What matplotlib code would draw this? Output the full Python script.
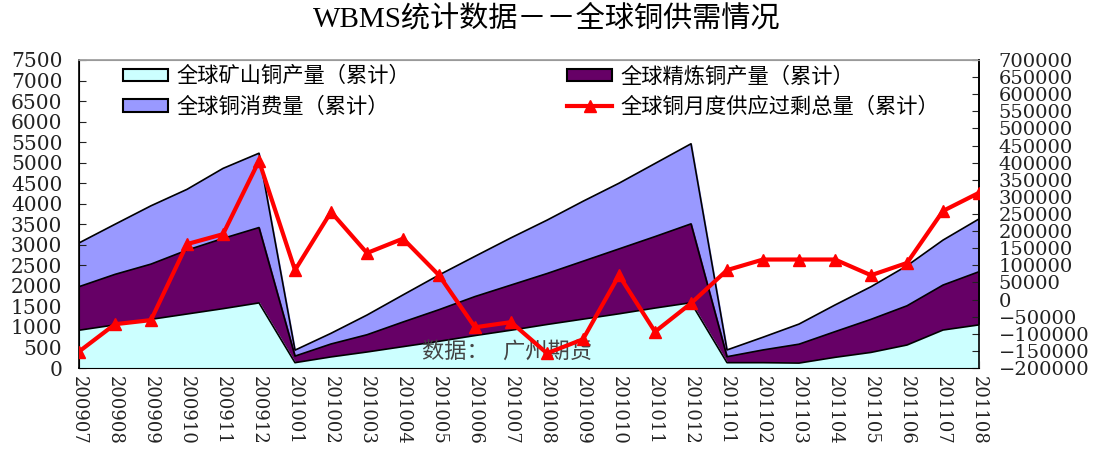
import matplotlib.pyplot as plt
from matplotlib.patches import Patch
from matplotlib.lines import Line2D

plt.rcParams['font.family'] = ['DejaVu Serif', 'Noto Sans CJK SC']

months = ["200907", "200908", "200909", "200910", "200911", "200912",
          "201001", "201002", "201003", "201004", "201005", "201006",
          "201007", "201008", "201009", "201010", "201011", "201012",
          "201101", "201102", "201103", "201104", "201105", "201106",
          "201107", "201108"]

# cumulative, thousand tonnes (left axis)
mine_output = [920, 1050, 1185, 1315, 1445, 1585,
               130, 270, 390, 520, 650, 790,
               920, 1060, 1190, 1320, 1460, 1590,
               130, 130, 120, 260, 380, 560,
               925, 1050]
refined_output = [1980, 2280, 2530, 2870, 3155, 3420,
                  290, 585, 810, 1120, 1420, 1740,
                  2020, 2300, 2600, 2900, 3200, 3510,
                  275, 440, 580, 885, 1185, 1515,
                  2020, 2345]
consumption = [3045, 3500, 3950, 4350, 4860, 5230,
               435, 845, 1290, 1780, 2265, 2720,
               3170, 3600, 4060, 4500, 4980, 5460,
               440, 750, 1070, 1535, 1980, 2490,
               3115, 3630]
# cumulative monthly surplus, tonnes (right axis)
surplus = [-152000, -72000, -60000, 162000, 191000, 405000,
           86000, 256000, 136000, 178000, 71000, -81000,
           -66000, -157000, -116000, 71000, -94000, -11000,
           86000, 117000, 117000, 117000, 71000, 107000,
           259000, 312000]

x = list(range(len(months)))

fig = plt.figure(figsize=(10.94, 4.5), dpi=100)
ax = fig.add_axes([0.0722, 0.1822, 0.8227, 0.6845])

ax.fill_between(x, consumption, color='#9999FF', zorder=1)
ax.plot(x, consumption, color='black', lw=1.2, zorder=1.5)
ax.fill_between(x, refined_output, color='#660066', zorder=2)
ax.plot(x, refined_output, color='black', lw=1.2, zorder=2.5)
ax.fill_between(x, mine_output, color='#CCFFFF', zorder=3)
ax.plot(x, mine_output, color='black', lw=1.2, zorder=3.5)

ax.set_xlim(0, len(months) - 1)
ax.set_ylim(0, 7500)
ax.set_yticks(range(0, 7501, 500))
ax.set_xticks(x)
ax.set_xticklabels(months, rotation=-90)
ax.tick_params(axis='both', direction='in', length=5, colors='#222222')
ax.tick_params(axis='x', labelsize=13, pad=6)
ax.tick_params(axis='y', labelsize=14.5, pad=12)
for s in ax.spines.values():
    s.set_linewidth(1.2)
ax.spines['top'].set_color('#999999')

ax2 = ax.twinx()
ax2.plot(x, surplus, color='#FF0000', lw=3, marker='^', markersize=8, zorder=5)
ax2.set_ylim(-200000, 700000)
ax2.set_yticks(range(-200000, 700001, 50000))
ax2.set_yticklabels([str(v).replace('-', '\u2212') for v in range(-200000, 700001, 50000)])
ax2.tick_params(axis='y', direction='in', length=5, labelsize=14, pad=14, colors='#222222')
ax2.spines['top'].set_color('#999999')
ax2.spines['right'].set_linewidth(1.2)

ax.text(0.476, 0.05, "数据：  广州期货", transform=ax.transAxes, ha='center', va='center',
        fontsize=16, color='#444444', zorder=10)

handles = [
    Patch(facecolor='#CCFFFF', edgecolor='black', linewidth=1.5, label='全球矿山铜产量（累计）'),
    Patch(facecolor='#9999FF', edgecolor='black', linewidth=1.5, label='全球铜消费量（累计）'),
    Patch(facecolor='#660066', edgecolor='black', linewidth=1.5, label='全球精炼铜产量（累计）'),
    Line2D([0], [0], color='#FF0000', lw=3, marker='^', markersize=8,
           label='全球铜月度供应过剩总量（累计）'),
]
ax2.legend(handles=handles, ncol=2, loc='upper left', bbox_to_anchor=(0.049, 0.98),
           frameon=False, fontsize=15.3, handlelength=2.1, handleheight=0.55,
           columnspacing=7.4, labelspacing=0.5, handletextpad=0.4,
           borderpad=0, borderaxespad=0)

fig.suptitle("WBMS统计数据－－全球铜供需情况", x=0.5, y=0.99, fontsize=21,
             family=['Liberation Serif', 'Noto Sans CJK SC'])

fig.savefig("out.png", dpi=100)
